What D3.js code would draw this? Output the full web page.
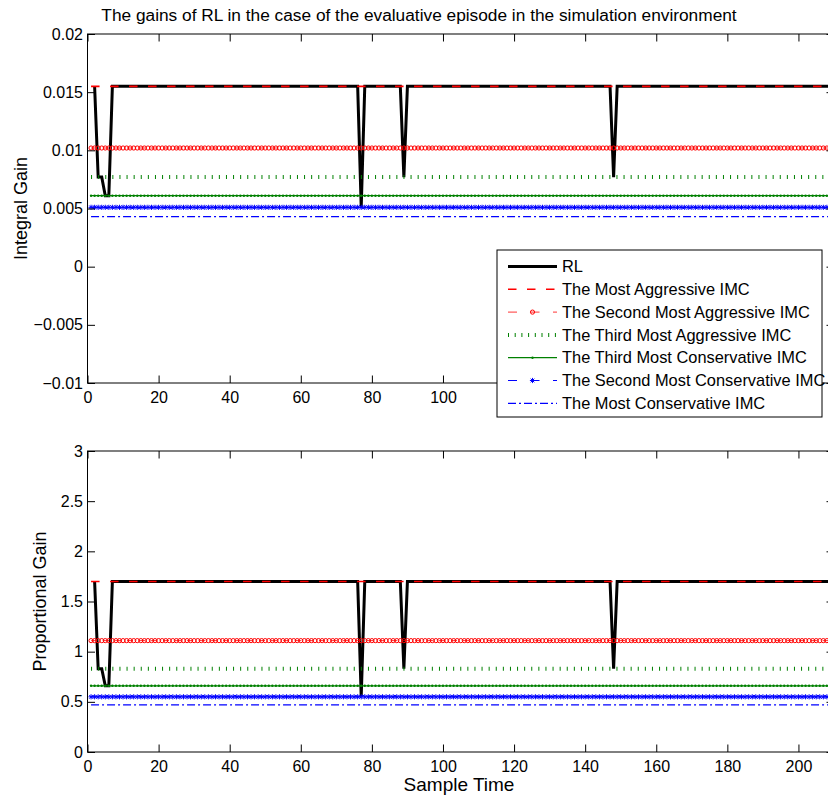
<!DOCTYPE html>
<html><head><meta charset="utf-8">
<script src="https://cdn.jsdelivr.net/npm/d3@7"></script>
<style>
body{margin:0;background:#fff}
svg{display:block}
text{font-family:"Liberation Sans",Arial,Helvetica,sans-serif;fill:#000}
</style>
</head><body><svg id="c" width="828" height="801"></svg>
<script>
// ---------- data ----------
const titleText = "The gains of RL in the case of the evaluative episode in the simulation environment";
const seriesNames = ["RL","The Most Aggressive IMC","The Second Most Aggressive IMC","The Third Most Aggressive IMC",
  "The Third Most Conservative IMC","The Second Most Conservative IMC","The Most Conservative IMC"];
const integralGains = [0.0155, 0.0102, 0.0077, 0.0061, 0.0051, 0.0043];
const proportionalGains = [1.70, 1.11, 0.83, 0.66, 0.55, 0.47];
const rlTimes = [2, 3, 4, 5, 6, 7, 76, 77, 78, 88, 89, 90, 147, 148, 149, 210];
const rlIntegral = [0.0155, 0.0077, 0.0077, 0.0061, 0.0061, 0.0155, 0.0155, 0.0051, 0.0155, 0.0155, 0.0077, 0.0155, 0.0155, 0.0077, 0.0155, 0.0155];
const rlProportional = [1.70, 0.83, 0.83, 0.66, 0.66, 1.70, 1.70, 0.55, 1.70, 1.70, 0.83, 1.70, 1.70, 0.83, 1.70, 1.70];
const imcFirstSample = 1, imcLastSample = 210;
const xDomain = [0, 210];
const xTicks = [0, 20, 40, 60, 80, 100, 120, 140, 160, 180, 200];
const integralDomain = [-0.01, 0.02];
const integralTicks = [-0.01, -0.005, 0, 0.005, 0.01, 0.015, 0.02];
const proportionalDomain = [0, 3];
const proportionalTicks = [0, 0.5, 1, 1.5, 2, 2.5, 3];

// ---------- styles ----------
const RED = "#ff0000", GREEN = "#008000", BLUE = "#0000ff";
const imcStyles = [
  {color: RED,   width: 1.6, dash: "8.5,10.5", marker: null},
  {color: RED,   width: 0.8, dash: "6,6",      marker: "circle"},
  {color: GREEN, width: 4,   dash: "1,6.1",    marker: null},
  {color: GREEN, width: 1.2, dash: null,       marker: "dot"},
  {color: BLUE,  width: 1,   dash: "6,6",      marker: "star"},
  {color: BLUE,  width: 1.3, dash: "8,3,2,3",  marker: null}
];
const legendBox = {x: 497, y: 250, w: 325, h: 167};

const svg = d3.select("#c");
const L = 87.5, R = 834;
const x = d3.scaleLinear().domain(xDomain).range([L, R]);
const samples = d3.range(imcFirstSample, imcLastSample + 1);
const fmt = v => v === 0 ? "0" : String(v).replace("-", "\u2212");

function drawMarker(g, type, cx, cy, color) {
  if (type === "circle") {
    g.append("circle").attr("cx", cx).attr("cy", cy).attr("r", 2.1)
      .attr("fill", "none").attr("stroke", color).attr("stroke-width", 1);
  } else if (type === "dot") {
    g.append("circle").attr("cx", cx).attr("cy", cy).attr("r", 1.2).attr("fill", color);
  } else if (type === "star") {
    const s = 2.6, a = 1.85;
    g.append("path").attr("d", `M${cx-s},${cy}L${cx+s},${cy}M${cx},${cy-s}L${cx},${cy+s}M${cx-a},${cy-a}L${cx+a},${cy+a}M${cx-a},${cy+a}L${cx+a},${cy-a}`)
      .attr("stroke", color).attr("stroke-width", 1).attr("fill", "none");
  }
}

function panel(id, top, bottom, yDomain, yTicks, gains, rlValues, yLabel, yLabelX, hideUnderLegend) {
  const y = d3.scaleLinear().domain(yDomain).range([bottom, top]);
  const g = svg.append("g");
  g.append("clipPath").attr("id", "clip" + id).append("rect")
    .attr("x", L).attr("y", top).attr("width", R - L).attr("height", bottom - top);
  const data = g.append("g").attr("clip-path", `url(#clip${id})`);
  // RL
  const rlPts = rlTimes.map((t, i) => [t, rlValues[i]]);
  data.append("path").attr("d", d3.line().x(d => x(d[0])).y(d => y(d[1]))(rlPts))
    .attr("fill", "none").attr("stroke", "#000").attr("stroke-width", 3).attr("stroke-linejoin", "miter");
  // IMC lines
  gains.forEach((v, i) => {
    const st = imcStyles[i];
    const pts = [[imcFirstSample, v], [imcLastSample, v]];
    const p = data.append("path").attr("d", d3.line().x(d => x(d[0])).y(d => y(d[1]))(pts))
      .attr("fill", "none").attr("stroke", st.color).attr("stroke-width", st.width);
    if (st.dash) p.attr("stroke-dasharray", st.dash);
    if (st.marker) {
      const mg = data.append("g");
      samples.forEach(t => drawMarker(mg, st.marker, x(t), y(v), st.color));
    }
  });
  // box
  g.append("rect").attr("x", L).attr("y", top).attr("width", R - L).attr("height", bottom - top)
    .attr("fill", "none").attr("stroke", "#000").attr("stroke-width", 1);
  const tk = 7.5;
  const ax = d3.axisLeft(y).tickValues(yTicks).tickFormat(fmt).tickSize(-tk).tickPadding(4.5);
  const gl = g.append("g").attr("transform", `translate(${L},0)`).call(ax);
  const gr = g.append("g").attr("transform", `translate(${R},0)`).call(d3.axisRight(y).tickValues(yTicks).tickFormat("").tickSize(-tk));
  const gb = g.append("g").attr("transform", `translate(0,${bottom})`)
    .call(d3.axisBottom(x).tickValues(xTicks).tickFormat(d => d).tickSize(-tk).tickPadding(9.1));
  const gt = g.append("g").attr("transform", `translate(0,${top})`)
    .call(d3.axisTop(x).tickValues(xTicks).tickFormat("").tickSize(-tk));
  [gl, gr, gb, gt].forEach(a => {
    a.select(".domain").remove();
    a.selectAll(".tick line").attr("stroke", "#000").attr("stroke-width", 1);
    a.selectAll("text").attr("font-size", 16).attr("font-family", '"Liberation Sans",Arial,sans-serif').attr("fill", "#000");
  });
  if (hideUnderLegend) {
    // tick labels covered by the legend box are not visible in the original
    gb.selectAll(".tick").filter(d => x(d) + 14 > legendBox.x).select("text").remove();
  }
  g.append("text").attr("transform", `translate(${yLabelX},${(top + bottom) / 2}) rotate(-90)`)
    .attr("text-anchor", "middle").attr("font-size", 18).text(yLabel);
  return g;
}

panel("a", 34, 383, integralDomain, integralTicks, integralGains, rlIntegral, "Integral Gain", 27, true);
panel("b", 451, 752, proportionalDomain, proportionalTicks, proportionalGains, rlProportional, "Proportional Gain", 46, false);

svg.append("text").attr("x", 419).attr("y", 21).attr("text-anchor", "middle").attr("font-size", 17.3).text(titleText);
svg.append("text").attr("x", 459).attr("y", 791).attr("text-anchor", "middle").attr("font-size", 19).text("Sample Time");

// ---------- legend ----------
const lg = svg.append("g");
lg.append("rect").attr("x", legendBox.x).attr("y", legendBox.y).attr("width", legendBox.w).attr("height", legendBox.h)
  .attr("fill", "#fff").attr("stroke", "#000").attr("stroke-width", 1);
const rowY = i => 266.5 + i * 22.8;
const sx0 = 508, sx1 = 557;
seriesNames.forEach((name, i) => {
  const cy = rowY(i);
  if (i === 0) {
    lg.append("line").attr("x1", sx0).attr("x2", sx1).attr("y1", cy).attr("y2", cy)
      .attr("stroke", "#000").attr("stroke-width", 3);
  } else {
    const st = imcStyles[i - 1];
    const ln = lg.append("line").attr("x1", sx0).attr("x2", sx1).attr("y1", cy).attr("y2", cy)
      .attr("stroke", st.color).attr("stroke-width", st.width);
    if (i === 3) ln.attr("stroke-dasharray", "1,5.7").attr("stroke-width", 4);
    else if (i === 2 || i === 5) ln.attr("stroke-dasharray", "9,13.5");
    else if (st.dash) ln.attr("stroke-dasharray", st.dash);
    if (st.marker) drawMarker(lg, st.marker, (sx0 + sx1) / 2, cy, st.color);
  }
  lg.append("text").attr("x", 562).attr("y", cy + 5.6).attr("font-size", 16.4).text(name);
});
</script>
</body></html>
